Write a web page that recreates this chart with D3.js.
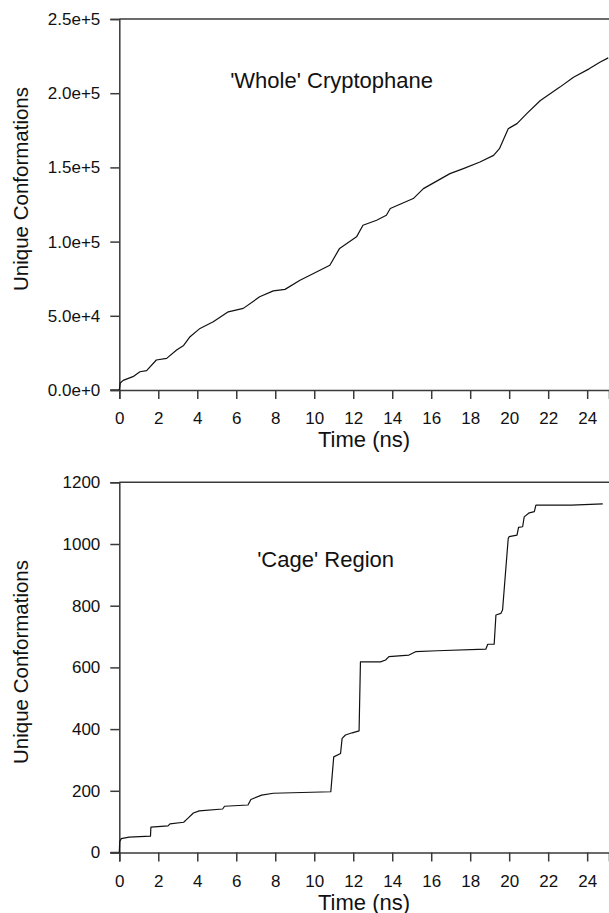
<!DOCTYPE html>
<html>
<head>
<meta charset="utf-8">
<script src="https://cdn.jsdelivr.net/npm/d3@7"></script>
<style>
  body { margin: 0; background: #fff; }
  svg { display: block; font-family: "Liberation Sans", Arial, sans-serif; }
</style>
</head>
<body>
<div id="chart"></div>
<script>
// 'Whole' Cryptophane: time (ns) vs unique conformations
const wholeTime = [0, 0.05, 0.2, 0.7, 1.06, 1.4, 1.9, 2.43, 2.94, 3.3, 3.63, 4.14, 4.82, 5.59, 6.36, 7.2, 7.9, 8.5, 9.27, 9.96, 10.8, 11.3, 12.17, 12.5, 13.2, 13.7, 13.9, 14.4, 15.08, 15.6, 16.96, 17.65, 18.5, 19.2, 19.5, 19.95, 20.4, 20.9, 21.6, 22.6, 23.3, 24.1, 24.65, 25.08];
const wholeCount = [0, 4700, 6500, 9000, 12300, 13000, 20200, 21300, 26900, 30000, 35900, 41500, 46000, 52700, 55000, 62800, 66800, 67800, 74000, 78500, 84100, 95400, 103200, 111000, 114400, 117800, 122300, 125200, 129000, 135700, 145800, 149200, 153600, 158100, 162600, 176100, 179500, 186200, 195100, 204100, 210800, 216400, 220900, 223800];

// 'Cage' Region
const cageTime = [0, 0.02, 0.1, 0.5, 1.6, 1.62, 2.5, 2.6, 3.3, 3.5, 3.8, 4.1, 5.3, 5.4, 6.6, 6.75, 7.3, 7.9, 10.85, 10.92, 11.0, 11.35, 11.43, 11.6, 11.95, 12.3, 12.37, 13.4, 13.66, 13.83, 14.86, 15.2, 16.3, 18.8, 18.9, 19.23, 19.32, 19.57, 19.66, 19.95, 20.0, 20.4, 20.48, 20.69, 20.77, 21.03, 21.29, 21.37, 23.2, 24.8];
const cageCount = [0, 35, 45, 50, 53, 82, 86, 93, 98, 110, 128, 135, 141, 150, 154, 172, 186, 192, 197, 250, 310, 321, 370, 381, 388, 394, 618, 618, 624, 635, 640, 651, 654, 659, 675, 675, 770, 775, 786, 1018, 1024, 1029, 1054, 1056, 1088, 1101, 1105, 1126, 1126, 1130];

const xTicks = d3.range(0, 25, 2);
const wholeTicks = [0, 50000, 100000, 150000, 200000, 250000];
const cageTicks = [0, 200, 400, 600, 800, 1000, 1200];

const W = 609, H = 913;
const svg = d3.select('#chart').append('svg')
  .attr('width', W)
  .attr('height', H);

const axisColor = '#3a3a3a';

function panel(cfg) {
  const x = d3.scaleLinear().domain([0, 25.12]).range([119.3, W]);
  const y = d3.scaleLinear().domain([0, cfg.yMax]).range([cfg.bottom, cfg.top]);

  const g = svg.append('g');

  // top frame line
  g.append('line')
    .attr('x1', 119.3).attr('x2', W)
    .attr('y1', cfg.top).attr('y2', cfg.top)
    .attr('stroke', axisColor).attr('stroke-width', 1.5);

  const xAxis = g.append('g')
    .attr('transform', `translate(0, ${cfg.bottom})`)
    .call(d3.axisBottom(x).tickValues(xTicks).tickSize(9).tickPadding(13).tickFormat(d3.format('d')));

  const yAxis = g.append('g')
    .attr('transform', 'translate(119.3, 0)')
    .call(d3.axisLeft(y).tickValues(cfg.ticks).tickSize(9).tickPadding(10).tickFormat(cfg.fmt));

  [xAxis, yAxis].forEach(a => {
    a.select('.domain').attr('stroke', axisColor).attr('stroke-width', 1.5);
    a.selectAll('.tick line').attr('stroke', axisColor).attr('stroke-width', 1.5);
    a.selectAll('.tick text')
      .attr('fill', '#111')
      .style('font-size', '17px')
      .style('font-family', '"Liberation Sans", Arial, sans-serif');
  });
  // extend x domain line left to meet the y zero tick
  g.append('line')
    .attr('x1', 110.3).attr('x2', 119.3)
    .attr('y1', cfg.bottom).attr('y2', cfg.bottom)
    .attr('stroke', axisColor).attr('stroke-width', 1.5);

  const line = d3.line()
    .x((d, i) => x(cfg.t[i]))
    .y(d => y(d));

  g.append('path')
    .datum(cfg.v)
    .attr('fill', 'none')
    .attr('stroke', '#111')
    .attr('stroke-width', 1.2)
    .attr('stroke-linejoin', 'round')
    .attr('d', line);

  // x label
  g.append('text')
    .attr('x', 364)
    .attr('y', cfg.bottom + 57)
    .attr('text-anchor', 'middle')
    .attr('font-size', '22px')
    .attr('fill', '#111')
    .text('Time (ns)');

  // y label
  g.append('text')
    .attr('transform', `translate(28, ${cfg.labelY}) rotate(-90)`)
    .attr('text-anchor', 'middle')
    .attr('font-size', '20.5px')
    .attr('fill', '#111')
    .text('Unique Conformations');

  // title
  g.append('text')
    .attr('x', cfg.titleX)
    .attr('y', cfg.titleY)
    .attr('text-anchor', 'end')
    .attr('font-size', '22px')
    .attr('fill', '#111')
    .text(cfg.title);
}

panel({
  top: 19, bottom: 390, yMax: 250000,
  ticks: wholeTicks, fmt: d => d.toExponential(1),
  t: wholeTime, v: wholeCount,
  labelY: 189,
  title: "'Whole' Cryptophane", titleX: 433, titleY: 88
});

panel({
  top: 482.3, bottom: 852.5, yMax: 1200,
  ticks: cageTicks, fmt: d3.format('d'),
  t: cageTime, v: cageCount,
  labelY: 662,
  title: "'Cage' Region", titleX: 394, titleY: 567
});
</script>
</body>
</html>
